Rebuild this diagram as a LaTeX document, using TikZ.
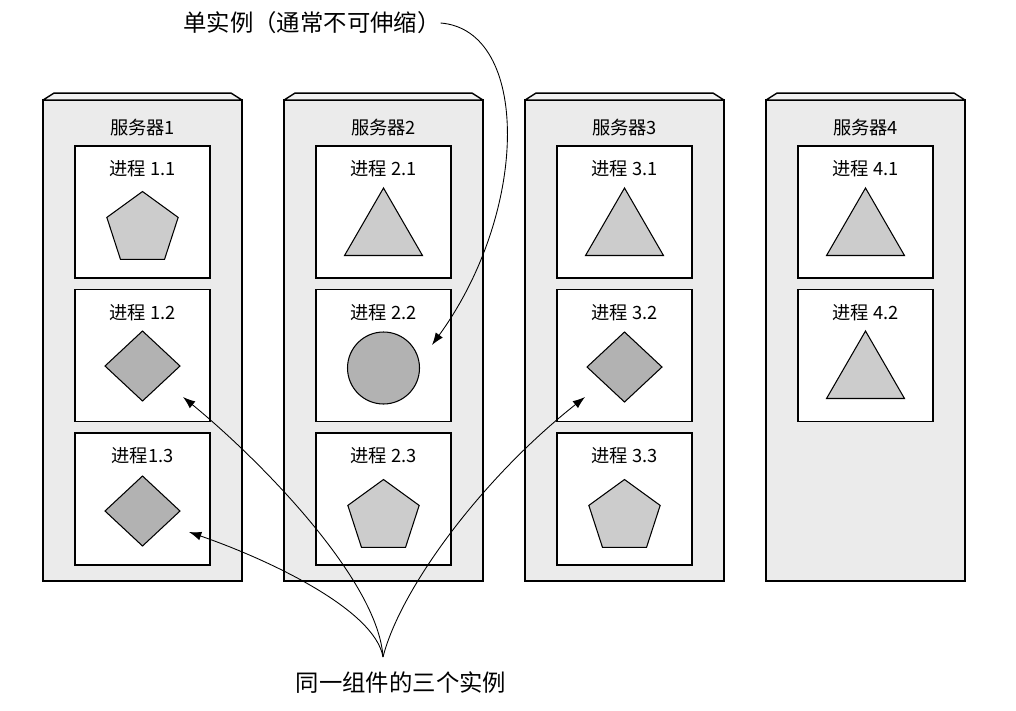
\documentclass[tikz,border=0pt]{standalone}
\usepackage{fontspec}
\setmainfont{Noto Sans CJK SC}
\usepackage{tikz}
\usetikzlibrary{shapes.geometric,arrows.meta}

\begin{document}
\begin{tikzpicture}[
		x=0.02cm, y=-0.02cm,
		every node/.style={inner sep=0, outer sep=0, font=\fontsize{10.4}{12}\selectfont},
		server/.style={rectangle, draw, line width=0.8pt, fill=black!8, minimum width=3.98cm, minimum height=9.62cm},
		srvtop/.style={draw, line width=0.8pt, fill=black!5, line join=round},
		proc/.style={rectangle, draw, line width=0.8pt, fill=white, minimum width=2.7cm, minimum height=2.64cm},
		slbl/.style={anchor=center, yshift=-0.56cm},
		lbl/.style={anchor=center, yshift=-0.46cm},
		penta/.style={regular polygon, regular polygon sides=5, minimum size=1.5cm, draw, line width=0.6pt, fill=black!20},
		tri/.style={regular polygon, regular polygon sides=3, minimum size=1.8cm, draw, line width=0.6pt, fill=black!20},
		dia/.style={diamond, minimum width=1.5cm, minimum height=1.4cm, draw, line width=0.6pt, fill=black!30},
		disc/.style={circle, minimum size=1.44cm, draw, line width=0.6pt, fill=black!30},
		note/.style={font=\fontsize{13.3}{16}\selectfont},
		arr/.style={-{Latex[length=7pt,width=5pt]}, line width=0.5pt}
	]
  \useasboundingbox (0,0) rectangle (1016,710);

  \node (s1) [server, label={[slbl]north:服务器1}] at (142.5, 340.5) {};
  \node (s2) [server, label={[slbl]north:服务器2}] at (383.5, 340.5) {};
  \node (s3) [server, label={[slbl]north:服务器3}] at (624.5, 340.5) {};
  \node (s4) [server, label={[slbl]north:服务器4}] at (865.5, 340.5) {};
  \draw[srvtop] (s1.north west) -- ++(11,-7) -- ++(177,0) -- (s1.north east) -- cycle;
  \draw[srvtop] (s2.north west) -- ++(11,-7) -- ++(177,0) -- (s2.north east) -- cycle;
  \draw[srvtop] (s3.north west) -- ++(11,-7) -- ++(177,0) -- (s3.north east) -- cycle;
  \draw[srvtop] (s4.north west) -- ++(11,-7) -- ++(177,0) -- (s4.north east) -- cycle;

  \node (p11) [proc, label={[lbl]north:进程 1.1}] at (142.5, 212) {};
  \node (p12) [proc, label={[lbl]north:进程 1.2}] at (142.5, 355.5) {};
  \node (p13) [proc, label={[lbl]north:进程1.3}] at (142.5, 499) {};
  \node (p21) [proc, label={[lbl]north:进程 2.1}] at (383.5, 212) {};
  \node (p22) [proc, label={[lbl]north:进程 2.2}] at (383.5, 355.5) {};
  \node (p23) [proc, label={[lbl]north:进程 2.3}] at (383.5, 499) {};
  \node (p31) [proc, label={[lbl]north:进程 3.1}] at (624.5, 212) {};
  \node (p32) [proc, label={[lbl]north:进程 3.2}] at (624.5, 355.5) {};
  \node (p33) [proc, label={[lbl]north:进程 3.3}] at (624.5, 499) {};
  \node (p41) [proc, label={[lbl]north:进程 4.1}] at (865.5, 212) {};
  \node (p42) [proc, label={[lbl]north:进程 4.2}] at (865.5, 355.5) {};

  \node (f11) [penta] at (142.5, 229) {};
  \node (f12) [dia] at (142.5, 366) {};
  \node (f13) [dia] at (142.5, 511) {};
  \node (f21) [tri] at (383.5, 233) {};
  \node (f22) [disc] at (383.5, 368) {};
  \node (f23) [penta] at (383.5, 517) {};
  \node (f31) [tri] at (624.5, 233) {};
  \node (f32) [dia] at (624.5, 367) {};
  \node (f33) [penta] at (624.5, 517) {};
  \node (f41) [tri] at (865.5, 233) {};
  \node (f42) [tri] at (865.5, 376) {};

  \node (single) [note] at (312, 23) {单实例（通常不可伸缩）};
  \node (same) [note] at (401, 683) {同一组件的三个实例};
  \coordinate (meet) at (383, 657);
  \coordinate (t22) at (432, 345);
  \coordinate (t12) at (183, 397);
  \coordinate (t13) at (189, 532);
  \coordinate (t32) at (585, 397);

  \draw[arr] (single.east) .. controls (530,30) and (530,210) .. (t22);
  \draw[arr] (meet) .. controls (378,580) and (260,460) .. (t12);
  \draw[arr] (meet) .. controls (375,610) and (270,560) .. (t13);
  \draw[arr] (meet) .. controls (400,590) and (480,480) .. (t32);
\end{tikzpicture}
\end{document}
